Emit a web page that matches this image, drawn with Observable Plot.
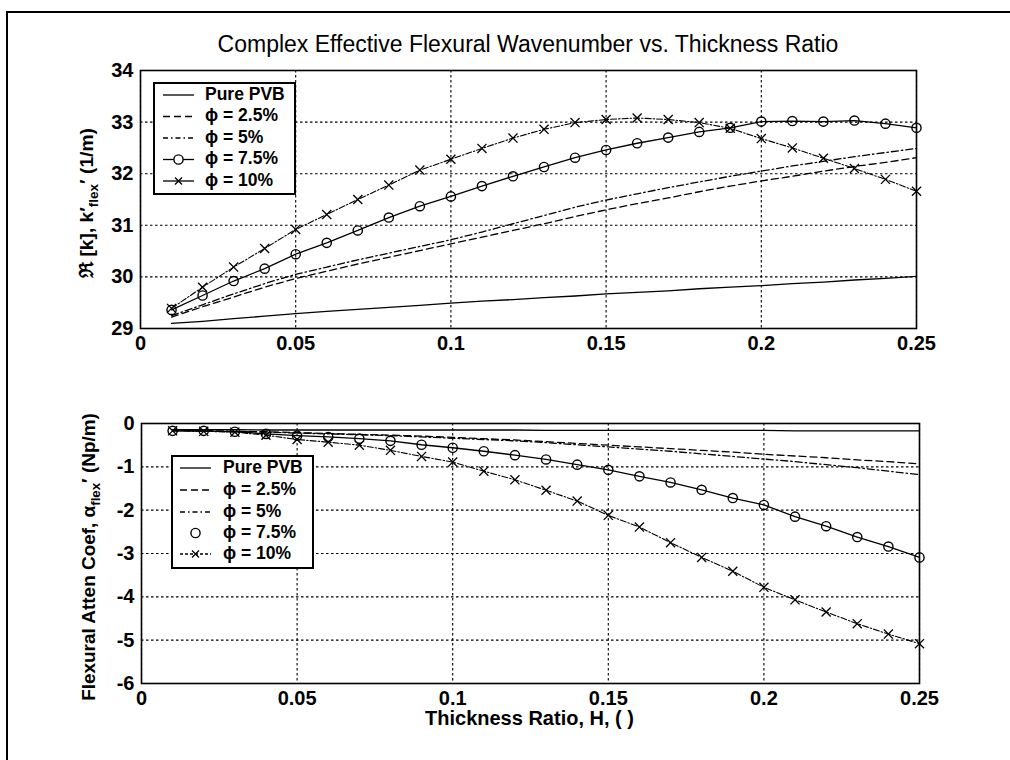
<!DOCTYPE html>
<html><head><meta charset="utf-8">
<script src="https://cdn.jsdelivr.net/npm/d3@7"></script>
<script src="https://cdn.jsdelivr.net/npm/@observablehq/plot@0.6"></script>
<style>
body{margin:0;background:#fff;}
#wrap{position:relative;width:1010px;height:760px;overflow:hidden;font-family:"Liberation Sans",Arial,sans-serif;color:#000;}
#frame{position:absolute;left:6px;top:11px;width:1100px;height:900px;border-left:2px solid #000;border-top:2px solid #000;pointer-events:none;}
#title{position:absolute;top:31px;left:140px;width:776px;text-align:center;font-size:23px;white-space:nowrap;}
#xlabel{position:absolute;top:707px;left:140px;width:779px;text-align:center;font-size:20px;font-weight:bold;white-space:nowrap;}
.plot{position:absolute;left:0;}
</style></head>
<body><div id="wrap">
<div id="title">Complex Effective Flexural Wavenumber vs. Thickness Ratio</div>
<div id="xlabel">Thickness Ratio, H, ( )</div>
</div>
<script>
// ---------- data ----------
const thickness = [0.01,0.02,0.03,0.04,0.05,0.06,0.07,0.08,0.09,0.10,0.11,0.12,0.13,0.14,0.15,0.16,0.17,0.18,0.19,0.20,0.21,0.22,0.23,0.24,0.25];
const seriesNames = ["Pure PVB","\u03d5 = 2.5%","\u03d5 = 5%","\u03d5 = 7.5%","\u03d5 = 10%"];

const wavePure = [29.10,29.14,29.19,29.24,29.29,29.33,29.37,29.41,29.45,29.49,29.53,29.56,29.60,29.63,29.67,29.70,29.73,29.77,29.80,29.83,29.87,29.90,29.94,29.97,30.01];
const wave25   = [29.22,29.42,29.61,29.80,29.97,30.11,30.25,30.38,30.51,30.64,30.77,30.90,31.03,31.17,31.30,31.42,31.53,31.65,31.76,31.86,31.95,32.05,32.14,32.22,32.31];
const wave5    = [29.25,29.46,29.67,29.87,30.05,30.19,30.33,30.46,30.59,30.72,30.87,31.03,31.19,31.35,31.49,31.61,31.73,31.84,31.95,32.05,32.15,32.24,32.33,32.41,32.49];
const wave75   = [29.36,29.64,29.92,30.16,30.44,30.66,30.90,31.15,31.37,31.56,31.76,31.95,32.13,32.31,32.46,32.59,32.70,32.81,32.89,33.01,33.02,33.01,33.03,32.97,32.89];
const wave10   = [29.39,29.80,30.19,30.55,30.92,31.21,31.50,31.78,32.07,32.28,32.49,32.69,32.86,32.99,33.05,33.08,33.05,32.99,32.88,32.68,32.50,32.30,32.10,31.89,31.66];

const attenPure = [-0.14,-0.14,-0.14,-0.15,-0.15,-0.15,-0.15,-0.15,-0.15,-0.15,-0.15,-0.15,-0.16,-0.16,-0.16,-0.16,-0.16,-0.16,-0.16,-0.16,-0.17,-0.17,-0.17,-0.17,-0.17];
const atten25   = [-0.16,-0.17,-0.18,-0.19,-0.21,-0.23,-0.25,-0.27,-0.29,-0.32,-0.35,-0.38,-0.42,-0.46,-0.50,-0.54,-0.58,-0.62,-0.66,-0.71,-0.75,-0.79,-0.84,-0.88,-0.93];
const atten5    = [-0.16,-0.17,-0.18,-0.20,-0.22,-0.24,-0.26,-0.28,-0.31,-0.34,-0.37,-0.40,-0.44,-0.49,-0.54,-0.59,-0.64,-0.70,-0.76,-0.82,-0.88,-0.95,-1.02,-1.10,-1.18];
const atten75   = [-0.17,-0.17,-0.19,-0.24,-0.28,-0.31,-0.35,-0.40,-0.49,-0.56,-0.64,-0.73,-0.83,-0.95,-1.07,-1.22,-1.36,-1.53,-1.72,-1.88,-2.15,-2.37,-2.62,-2.84,-3.09];
const atten10   = [-0.17,-0.18,-0.20,-0.27,-0.37,-0.43,-0.50,-0.62,-0.76,-0.89,-1.10,-1.30,-1.54,-1.79,-2.12,-2.39,-2.75,-3.09,-3.41,-3.78,-4.07,-4.35,-4.62,-4.86,-5.08];

const xTicks = [0,0.05,0.1,0.15,0.2,0.25];
const xTickLabels = ["0","0.05","0.1","0.15","0.2","0.25"];
const yTicksTop = [29,30,31,32,33,34];
const yTicksBottom = [-6,-5,-4,-3,-2,-1,0];

// ---------- helpers ----------
const rows = ys => thickness.map((x,i)=>({x, y: ys[i]}));
const FONT = '"Liberation Sans", Arial, sans-serif';

function makePlot(cfg){
  const {series, yDomain, yTicks, height, margins} = cfg;
  const [dPure,d25,d5,d75,d10] = series.map(rows);
  const lineOpts = {x:"x", y:"y", stroke:"#000", strokeWidth:1.3};
  return Plot.plot({
    width:1010, height,
    marginLeft:margins[3], marginRight:margins[1], marginTop:margins[0], marginBottom:margins[2],
    style:{fontFamily:FONT, fontSize:"20px", fontWeight:"bold", color:"#000", background:"transparent", overflow:"visible"},
    x:{domain:[0,0.25]},
    y:{domain:yDomain},
    marks:[
      Plot.gridX(xTicks,{stroke:"#000", strokeOpacity:1, strokeWidth:1.1, strokeDasharray:"2.5,2.5"}),
      Plot.gridY(yTicks,{stroke:"#000", strokeOpacity:1, strokeWidth:1.1, strokeDasharray:"2.5,2.5"}),
      Plot.axisX(xTicks,{tickSize:0, tickPadding:7, tickFormat:(d,i)=>xTickLabels[i], label:null}),
      Plot.axisY(yTicks,{tickSize:0, tickPadding:7, tickFormat:d=>String(d), label:null}),
      Plot.line(dPure, lineOpts),
      Plot.line(d25, {...lineOpts, strokeDasharray:"7,4"}),
      Plot.line(d5, {...lineOpts, strokeDasharray:"7,3,1.5,3"}),
      Plot.line(d75, {...lineOpts}),
      Plot.line(d10, {...lineOpts, strokeWidth:1.1, strokeDasharray:"6,2,1.5,2"}),
      Plot.dot(d75, {x:"x", y:"y", r:4.6, stroke:"#000", strokeWidth:1.4, fill:"none"}),
      Plot.dot(d10, {x:"x", y:"y", r:4.2, symbol:"times", stroke:"#000", strokeWidth:1.3}),
      Plot.frame({stroke:"#000", strokeWidth:1.6})
    ]
  });
}

// rotated y label with a subscript; font size fitted to the reference length
function addYLabel(svg, cx, cy, pre, sub, post, targetLen){
  const t = d3.select(svg).append("text")
    .attr("transform",`translate(${cx},${cy}) rotate(-90)`)
    .attr("text-anchor","middle").attr("dominant-baseline","middle")
    .style("font-family",FONT).style("font-weight","bold").style("fill","#000");
  const a = t.append("tspan").text(pre);
  const b = t.append("tspan").text(sub);
  const c = t.append("tspan").text(post);
  const apply = fs => {
    t.style("font-size",fs+"px");
    b.attr("dy",fs*0.3).style("font-size",(fs*0.7)+"px");
    c.attr("dy",-fs*0.3);
  };
  apply(18);
  const len = t.node().getComputedTextLength();
  if(len>0) apply(18*targetLen/len);
}

function addLegend(svg, box, rowsY, sx0, sx1, tx, variant){
  const g = d3.select(svg).append("g");
  g.append("rect").attr("x",box[0]).attr("y",box[1]).attr("width",box[2]).attr("height",box[3])
    .attr("fill","#fff").attr("stroke","#000").attr("stroke-width",2);
  const dashes = [null,"7,4","5,3,1.5,3",null,variant==="top"?null:"3,2"];
  seriesNames.forEach((name,i)=>{
    const y = rowsY[i];
    const drawLine = !(variant==="bottom" && i===3);
    if(drawLine){
      const l = g.append("line").attr("x1",sx0).attr("x2",sx1).attr("y1",y).attr("y2",y)
        .attr("stroke","#000").attr("stroke-width",1.3);
      if(dashes[i]) l.attr("stroke-dasharray",dashes[i]);
    }
    const mx = (sx0+sx1)/2;
    if(i===3) g.append("circle").attr("cx",mx).attr("cy",y).attr("r",4.6).attr("fill",variant==="top"?"#fff":"none").attr("stroke","#000").attr("stroke-width",1.4);
    if(i===4){
      g.append("path").attr("d",`M${mx-3.5},${y-3.5}L${mx+3.5},${y+3.5}M${mx-3.5},${y+3.5}L${mx+3.5},${y-3.5}`)
        .attr("stroke","#000").attr("stroke-width",1.3);
    }
    g.append("text").attr("x",tx).attr("y",y).attr("text-anchor","start").attr("dominant-baseline","middle")
      .style("font-family",FONT).style("font-size","17.5px").style("font-weight","bold").style("fill","#000")
      .text(name);
  });
}

const wrap = document.getElementById("wrap");

// top panel: wavenumber
const topPlot = makePlot({
  series:[wavePure,wave25,wave5,wave75,wave10],
  yDomain:[29,34], yTicks:yTicksTop, height:360, margins:[70,94,32,140]
});
topPlot.classList.add("plot"); topPlot.style.top = "0px";
wrap.appendChild(topPlot);
addYLabel(topPlot, 88, 203, "\u211c [k], k\u2032", "flex", "\u2032 (1/m)", 150);
addLegend(topPlot, [154,83,141,111], [95,116.5,138,159.5,181], 163, 194, 205, "top");

// bottom panel: attenuation
const botPlot = makePlot({
  series:[attenPure,atten25,atten5,atten75,atten10],
  yDomain:[-6,0], yTicks:yTicksBottom, height:350, margins:[43,91,47,141]
});
botPlot.classList.add("plot"); botPlot.style.top = "380px";
wrap.appendChild(botPlot);
addYLabel(botPlot, 90, 177, "Flexural Atten Coef, \u03b1", "flex", "\u2032 (Np/m)", 288);
addLegend(botPlot, [172,76,141,112], [88,110,132,153,174], 180, 211, 223, "bottom");

const frame = document.createElement("div"); frame.id = "frame"; wrap.appendChild(frame);
</script>
</body></html>
